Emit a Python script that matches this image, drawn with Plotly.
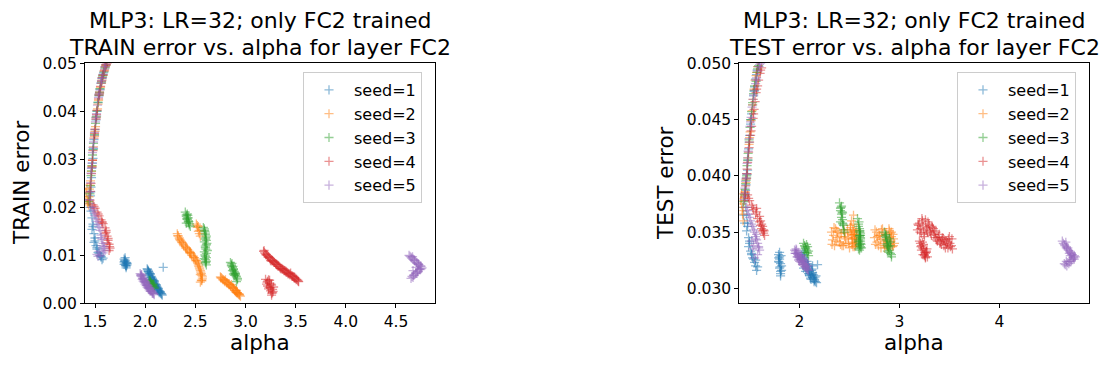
import plotly.graph_objects as go

# seed names and matplotlib tab10 colours
SEED_NAMES = ["seed=1", "seed=2", "seed=3", "seed=4", "seed=5"]
COLORS = ["#1f77b4", "#ff7f0e", "#2ca02c", "#d62728", "#9467bd"]

# seed 1: alpha, train error, test error (one entry per checkpoint)
SEED1_ALPHA = [1.62, 1.60, 1.585, 1.57, 1.56, 1.55, 1.54, 1.53, 1.52, 1.51, 1.50, 1.49, 1.485, 1.48, 1.47, 1.465, 1.46, 1.455, 1.45,
               1.46, 1.47, 1.48, 1.47, 1.49, 1.50, 1.49, 1.51, 1.52, 1.53, 1.55, 1.56, 1.57, 1.58, 1.56,
               1.79, 1.80, 1.81, 1.80, 1.82, 1.81, 1.79, 1.80, 1.82, 1.81,
               2.18,
               2.02, 2.03, 2.04, 2.05, 2.06, 2.07, 2.08, 2.09, 2.10, 2.11, 2.12, 2.13, 2.14, 2.15, 2.16, 2.17, 2.04, 2.06, 2.08, 2.10, 2.12, 2.14,
               1.575, 1.545, 1.515, 1.495, 1.475, 1.458, 1.48, 1.50, 1.52, 1.54, 1.80, 1.81, 1.79,
               2.03, 2.05, 2.07, 2.09, 2.11, 2.13, 2.15, 2.165, 2.05, 2.09, 2.13,
               2.025, 2.045, 2.065, 2.085, 2.105, 2.125, 2.145, 2.155, 2.035, 2.075, 2.115, 1.795, 1.805, 1.815, 1.44, 1.43, 1.45]
SEED1_TRAIN = [0.0505, 0.0492, 0.0480, 0.0468, 0.0458, 0.0446, 0.0432, 0.0418, 0.0400, 0.0382, 0.0362, 0.0341, 0.0322, 0.0302, 0.0282, 0.0262, 0.0242, 0.0224, 0.0208,
               0.0192, 0.0178, 0.0165, 0.0154, 0.0145, 0.0136, 0.0127, 0.0120, 0.0113, 0.0106, 0.0100, 0.0096, 0.0091, 0.0094, 0.0098,
               0.0092, 0.0088, 0.0085, 0.0082, 0.0080, 0.0077, 0.0086, 0.0090, 0.0083, 0.0079,
               0.0075,
               0.0072, 0.0068, 0.0064, 0.0060, 0.0056, 0.0052, 0.0048, 0.0045, 0.0041, 0.0037, 0.0033, 0.0029, 0.0026, 0.0023, 0.0020, 0.0017, 0.0058, 0.0050, 0.0042, 0.0035, 0.0028, 0.0022,
               0.0474, 0.0438, 0.0390, 0.0350, 0.0292, 0.0232, 0.0160, 0.0130, 0.0116, 0.0104, 0.0095, 0.0074, 0.0081,
               0.0066, 0.0062, 0.0050, 0.0043, 0.0039, 0.0031, 0.0024, 0.0019, 0.0054, 0.0047, 0.0027,
               0.0070, 0.0062, 0.0054, 0.0046, 0.0039, 0.0031, 0.0025, 0.0021, 0.0066, 0.0050, 0.0035, 0.0088, 0.0079, 0.0084, 0.0230, 0.0215, 0.0200]
SEED1_TEST = [0.0512, 0.0503, 0.0497, 0.0490, 0.0486, 0.0479, 0.0471, 0.0463, 0.0455, 0.0446, 0.0436, 0.0424, 0.0414, 0.0405, 0.0398, 0.0392, 0.0387, 0.0382, 0.0378,
              0.0372, 0.0365, 0.0358, 0.0351, 0.0345, 0.0340, 0.0337, 0.0333, 0.0330, 0.0327, 0.0323, 0.0320, 0.0316, 0.0319, 0.0325,
              0.0330, 0.0326, 0.0322, 0.0318, 0.0316, 0.0313, 0.0324, 0.0328, 0.0320, 0.0315,
              0.0321,
              0.0330, 0.0328, 0.0325, 0.0323, 0.0321, 0.0320, 0.0318, 0.0316, 0.0315, 0.0313, 0.0312, 0.0310, 0.0309, 0.0307, 0.0306, 0.0305, 0.0318, 0.0315, 0.0322, 0.0311, 0.0316, 0.0312,
              0.0494, 0.0475, 0.0450, 0.0430, 0.0401, 0.0384, 0.0355, 0.0342, 0.0331, 0.0326, 0.0332, 0.0311, 0.0327,
              0.0326, 0.0324, 0.0317, 0.0319, 0.0309, 0.0314, 0.0308, 0.0311, 0.0327, 0.0313, 0.0320,
              0.0326, 0.0330, 0.0319, 0.0321, 0.0312, 0.0317, 0.0306, 0.0310, 0.0332, 0.0324, 0.0308, 0.0323, 0.0319, 0.0329, 0.0365, 0.0372, 0.0358]

# seed 2
SEED2_ALPHA = [1.63, 1.61, 1.595, 1.58, 1.57, 1.555, 1.545, 1.535, 1.525, 1.515, 1.505, 1.495, 1.485, 1.475, 1.465, 1.455, 1.445, 1.44, 1.43, 1.435, 1.42,
               2.32, 2.34, 2.36, 2.38, 2.40, 2.42, 2.44, 2.46, 2.48, 2.50, 2.52, 2.53, 2.54, 2.55, 2.56, 2.57, 2.56, 2.55, 2.57, 2.35, 2.45,
               2.51, 2.52, 2.53, 2.54, 2.55, 2.53,
               2.75, 2.77, 2.79, 2.81, 2.83, 2.85, 2.87, 2.88, 2.89, 2.90, 2.91, 2.92, 2.93, 2.94, 2.95, 2.80, 2.86, 2.91,
               1.60, 1.565, 1.53, 1.50, 1.47, 1.45, 1.425,
               2.33, 2.37, 2.41, 2.45, 2.49, 2.51, 2.535, 2.545, 2.555, 2.565,
               2.76, 2.78, 2.82, 2.84, 2.88, 2.90, 2.92, 2.94, 2.52, 2.54,
               2.325, 2.345, 2.365, 2.385, 2.405, 2.425, 2.445, 2.465, 2.485, 2.505, 2.525, 2.55, 2.565,
               2.755, 2.775, 2.795, 2.815, 2.835, 2.855, 2.875, 2.895, 2.915, 2.935, 1.41, 1.42]
SEED2_TRAIN = [0.0510, 0.0497, 0.0486, 0.0475, 0.0465, 0.0450, 0.0437, 0.0423, 0.0405, 0.0388, 0.0368, 0.0348, 0.0326, 0.0298, 0.0275, 0.0255, 0.0238, 0.0222, 0.0212, 0.0205, 0.0218,
               0.0145, 0.0136, 0.0129, 0.0123, 0.0118, 0.0113, 0.0108, 0.0103, 0.0098, 0.0092, 0.0086, 0.0080, 0.0074, 0.0068, 0.0062, 0.0055, 0.0048, 0.0044, 0.0051, 0.0131, 0.0106,
               0.0165, 0.0158, 0.0150, 0.0145, 0.0140, 0.0160,
               0.0055, 0.0051, 0.0047, 0.0044, 0.0041, 0.0037, 0.0034, 0.0031, 0.0028, 0.0026, 0.0023, 0.0021, 0.0019, 0.0017, 0.0015, 0.0049, 0.0039, 0.0027,
               0.0492, 0.0458, 0.0415, 0.0358, 0.0286, 0.0246, 0.0208,
               0.0140, 0.0126, 0.0116, 0.0105, 0.0095, 0.0089, 0.0077, 0.0071, 0.0065, 0.0058,
               0.0053, 0.0049, 0.0042, 0.0039, 0.0032, 0.0024, 0.0022, 0.0018, 0.0162, 0.0152,
               0.0141, 0.0133, 0.0127, 0.0120, 0.0115, 0.0111, 0.0105, 0.0100, 0.0095, 0.0089, 0.0083, 0.0060, 0.0047,
               0.0053, 0.0049, 0.0045, 0.0043, 0.0039, 0.0035, 0.0032, 0.0027, 0.0022, 0.0020, 0.0230, 0.0240]
SEED2_TEST = [0.0520, 0.0507, 0.0502, 0.0497, 0.0492, 0.0485, 0.0477, 0.0468, 0.0458, 0.0449, 0.0439, 0.0428, 0.0416, 0.0402, 0.0394, 0.0386, 0.0380, 0.0372, 0.0366, 0.0360, 0.0375,
              0.0350, 0.0347, 0.0353, 0.0345, 0.0341, 0.0349, 0.0338, 0.0344, 0.0352, 0.0336, 0.0347, 0.0341, 0.0350, 0.0344, 0.0338, 0.0346, 0.0340, 0.0337, 0.0352, 0.0338, 0.0346,
              0.0356, 0.0360, 0.0352, 0.0365, 0.0348, 0.0344,
              0.0345, 0.0350, 0.0338, 0.0343, 0.0353, 0.0336, 0.0348, 0.0341, 0.0335, 0.0351, 0.0339, 0.0346, 0.0337, 0.0344, 0.0340, 0.0347, 0.0342, 0.0349,
              0.0505, 0.0489, 0.0463, 0.0434, 0.0398, 0.0383, 0.0369,
              0.0343, 0.0351, 0.0339, 0.0349, 0.0340, 0.0354, 0.0337, 0.0345, 0.0351, 0.0341,
              0.0339, 0.0346, 0.0352, 0.0340, 0.0337, 0.0345, 0.0350, 0.0338, 0.0348, 0.0357,
              0.0339, 0.0354, 0.0342, 0.0350, 0.0346, 0.0338, 0.0352, 0.0340, 0.0345, 0.0350, 0.0339, 0.0348, 0.0343,
              0.0352, 0.0341, 0.0347, 0.0336, 0.0349, 0.0344, 0.0338, 0.0353, 0.0342, 0.0348, 0.0378, 0.0384]

# seed 3
SEED3_ALPHA = [1.62, 1.60, 1.59, 1.575, 1.565, 1.55, 1.54, 1.53, 1.52, 1.505, 1.495, 1.485, 1.475, 1.47, 1.46, 1.455, 1.45, 1.44,
               2.04, 2.05, 2.06, 2.07, 2.08, 2.09, 2.06, 2.08,
               2.40, 2.41, 2.42, 2.43, 2.44, 2.45, 2.42, 2.43, 2.41, 2.44,
               2.58, 2.59, 2.60, 2.61, 2.60, 2.59, 2.61, 2.60, 2.62, 2.61, 2.60, 2.59, 2.61, 2.60, 2.61, 2.60,
               2.85, 2.86, 2.87, 2.88, 2.89, 2.90, 2.91, 2.92, 2.87, 2.89, 2.91,
               1.61, 1.58, 1.545, 1.51, 1.48, 1.465, 2.05, 2.07, 2.09, 2.42, 2.43, 2.41,
               2.59, 2.60, 2.61, 2.60, 2.59, 2.61, 2.86, 2.88, 2.90, 2.92, 2.88,
               2.595, 2.605, 2.615, 2.605, 2.595, 2.605, 2.425, 2.435, 2.415, 2.865, 2.875, 2.885, 2.895, 2.905, 2.055, 2.075]
SEED3_TRAIN = [0.0502, 0.0490, 0.0482, 0.0471, 0.0461, 0.0447, 0.0434, 0.0419, 0.0401, 0.0375, 0.0352, 0.0333, 0.0309, 0.0287, 0.0266, 0.0245, 0.0228, 0.0212,
               0.0048, 0.0045, 0.0042, 0.0039, 0.0035, 0.0031, 0.0037, 0.0040,
               0.0190, 0.0184, 0.0178, 0.0172, 0.0166, 0.0160, 0.0175, 0.0169, 0.0181, 0.0163,
               0.0158, 0.0152, 0.0146, 0.0140, 0.0134, 0.0128, 0.0122, 0.0116, 0.0110, 0.0104, 0.0098, 0.0093, 0.0088, 0.0084, 0.0080, 0.0091,
               0.0085, 0.0080, 0.0075, 0.0070, 0.0065, 0.0060, 0.0055, 0.0049, 0.0068, 0.0058, 0.0045,
               0.0496, 0.0476, 0.0440, 0.0388, 0.0320, 0.0276, 0.0047, 0.0036, 0.0033, 0.0186, 0.0178, 0.0167,
               0.0155, 0.0143, 0.0131, 0.0119, 0.0107, 0.0095, 0.0078, 0.0072, 0.0063, 0.0052, 0.0061,
               0.0150, 0.0137, 0.0125, 0.0113, 0.0101, 0.0086, 0.0183, 0.0170, 0.0176, 0.0083, 0.0077, 0.0067, 0.0062, 0.0057, 0.0043, 0.0038]
SEED3_TEST = [0.0515, 0.0504, 0.0498, 0.0492, 0.0484, 0.0480, 0.0473, 0.0465, 0.0457, 0.0443, 0.0432, 0.0420, 0.0409, 0.0400, 0.0393, 0.0388, 0.0383, 0.0377,
              0.0340, 0.0338, 0.0336, 0.0334, 0.0331, 0.0329, 0.0335, 0.0337,
              0.0376, 0.0371, 0.0366, 0.0361, 0.0356, 0.0350, 0.0363, 0.0358, 0.0369, 0.0352,
              0.0362, 0.0357, 0.0353, 0.0349, 0.0346, 0.0343, 0.0340, 0.0338, 0.0336, 0.0344, 0.0350, 0.0341, 0.0337, 0.0334, 0.0345, 0.0339,
              0.0350, 0.0346, 0.0343, 0.0340, 0.0337, 0.0334, 0.0331, 0.0328, 0.0345, 0.0336, 0.0341,
              0.0509, 0.0495, 0.0476, 0.0450, 0.0414, 0.0396, 0.0332, 0.0339, 0.0333, 0.0373, 0.0367, 0.0359,
              0.0355, 0.0347, 0.0342, 0.0351, 0.0335, 0.0347, 0.0348, 0.0333, 0.0344, 0.0330, 0.0338,
              0.0359, 0.0351, 0.0339, 0.0347, 0.0342, 0.0336, 0.0368, 0.0357, 0.0372, 0.0347, 0.0339, 0.0342, 0.0332, 0.0338, 0.0337, 0.0332]

# seed 4
SEED4_ALPHA = [1.62, 1.605, 1.59, 1.58, 1.565, 1.555, 1.545, 1.535, 1.52, 1.51, 1.50, 1.49, 1.48, 1.475, 1.465, 1.46, 1.455, 1.45,
               1.48, 1.50, 1.52, 1.54, 1.56, 1.58, 1.60, 1.61, 1.62, 1.63, 1.64, 1.65, 1.64, 1.62, 1.60, 1.57,
               3.18, 3.20, 3.22, 3.24, 3.26, 3.28, 3.30, 3.32, 3.34, 3.36, 3.38, 3.40, 3.42, 3.44, 3.46, 3.48, 3.50, 3.52, 3.53, 3.25, 3.35, 3.45,
               3.20, 3.22, 3.24, 3.26, 3.28, 3.23, 3.25, 3.27, 3.21, 3.26,
               1.61, 1.57, 1.54, 1.515, 1.495, 1.47, 1.49, 1.53, 1.57, 1.61, 1.63, 1.645,
               3.19, 3.21, 3.23, 3.27, 3.29, 3.31, 3.33, 3.37, 3.39, 3.41, 3.43, 3.47, 3.49, 3.51,
               3.22, 3.24, 3.27, 3.25,
               3.185, 3.205, 3.225, 3.245, 3.265, 3.285, 3.305, 3.325, 3.345, 3.365, 3.385, 3.405, 3.425, 3.445, 3.465, 3.485, 3.505, 3.525,
               3.215, 3.235, 3.255, 3.275, 3.23, 3.26]
SEED4_TRAIN = [0.0500, 0.0494, 0.0484, 0.0476, 0.0463, 0.0452, 0.0440, 0.0426, 0.0402, 0.0384, 0.0363, 0.0344, 0.0318, 0.0298, 0.0270, 0.0250, 0.0233, 0.0215,
               0.0205, 0.0198, 0.0190, 0.0182, 0.0174, 0.0166, 0.0157, 0.0148, 0.0140, 0.0131, 0.0123, 0.0115, 0.0110, 0.0126, 0.0145, 0.0170,
               0.0108, 0.0103, 0.0099, 0.0095, 0.0091, 0.0087, 0.0083, 0.0080, 0.0076, 0.0073, 0.0070, 0.0067, 0.0064, 0.0061, 0.0058, 0.0055, 0.0052, 0.0048, 0.0045, 0.0089, 0.0072, 0.0063,
               0.0050, 0.0046, 0.0042, 0.0038, 0.0034, 0.0030, 0.0026, 0.0022, 0.0040, 0.0017,
               0.0497, 0.0470, 0.0434, 0.0393, 0.0354, 0.0284, 0.0202, 0.0186, 0.0168, 0.0152, 0.0135, 0.0118,
               0.0105, 0.0101, 0.0097, 0.0089, 0.0085, 0.0081, 0.0078, 0.0071, 0.0068, 0.0065, 0.0062, 0.0056, 0.0053, 0.0050,
               0.0036, 0.0048, 0.0029, 0.0032,
               0.0110, 0.0101, 0.0096, 0.0093, 0.0088, 0.0085, 0.0081, 0.0077, 0.0074, 0.0071, 0.0068, 0.0065, 0.0061, 0.0059, 0.0056, 0.0053, 0.0049, 0.0046,
               0.0044, 0.0033, 0.0040, 0.0025, 0.0049, 0.0021]
SEED4_TEST = [0.0496, 0.0491, 0.0485, 0.0480, 0.0474, 0.0466, 0.0459, 0.0451, 0.0444, 0.0436, 0.0430, 0.0421, 0.0412, 0.0406, 0.0397, 0.0391, 0.0385, 0.0381,
              0.0383, 0.0378, 0.0374, 0.0370, 0.0366, 0.0362, 0.0359, 0.0356, 0.0353, 0.0351, 0.0349, 0.0347, 0.0352, 0.0357, 0.0364, 0.0371,
              0.0352, 0.0358, 0.0349, 0.0355, 0.0361, 0.0350, 0.0356, 0.0347, 0.0353, 0.0345, 0.0342, 0.0348, 0.0339, 0.0344, 0.0336, 0.0341, 0.0346, 0.0338, 0.0335, 0.0346, 0.0351, 0.0343,
              0.0342, 0.0338, 0.0335, 0.0331, 0.0328, 0.0336, 0.0330, 0.0333, 0.0340, 0.0327,
              0.0494, 0.0477, 0.0455, 0.0440, 0.0425, 0.0402, 0.0380, 0.0372, 0.0368, 0.0360, 0.0355, 0.0351,
              0.0356, 0.0353, 0.0360, 0.0352, 0.0357, 0.0349, 0.0354, 0.0343, 0.0346, 0.0341, 0.0345, 0.0339, 0.0344, 0.0337,
              0.0334, 0.0339, 0.0332, 0.0329,
              0.0357, 0.0350, 0.0362, 0.0348, 0.0354, 0.0359, 0.0351, 0.0355, 0.0348, 0.0350, 0.0345, 0.0340, 0.0343, 0.0338, 0.0342, 0.0336, 0.0340, 0.0344,
              0.0337, 0.0330, 0.0332, 0.0335, 0.0341, 0.0328]

# seed 5
SEED5_ALPHA = [1.61, 1.595, 1.58, 1.57, 1.56, 1.55, 1.535, 1.525, 1.515, 1.505, 1.495, 1.485, 1.475, 1.47, 1.46, 1.455, 1.45, 1.445,
               1.47, 1.49, 1.51, 1.53, 1.55, 1.56, 1.57, 1.58, 1.59, 1.60, 1.58, 1.55, 1.53, 1.52, 1.54, 1.57,
               1.95, 1.96, 1.97, 1.98, 1.99, 2.00, 2.01, 2.02, 2.03, 2.04, 2.05, 2.06, 2.07, 2.08, 2.09, 1.98, 2.00, 2.02, 2.04,
               4.63, 4.65, 4.67, 4.69, 4.71, 4.73, 4.75, 4.76, 4.74, 4.72, 4.70, 4.68, 4.66, 4.65, 4.67, 4.70,
               1.60, 1.565, 1.54, 1.51, 1.48, 1.465, 1.48, 1.50, 1.52, 1.54, 1.56, 1.59,
               1.96, 1.97, 1.99, 2.01, 2.03, 2.05, 2.07, 4.64, 4.68, 4.72, 4.75, 4.71, 4.67,
               1.955, 1.965, 1.975, 1.985, 1.995, 2.005, 2.015, 2.025, 2.035, 2.045, 2.055, 2.065, 2.075, 2.085,
               4.655, 4.665, 4.685, 4.705, 4.725, 4.745, 4.735, 4.715, 4.695, 4.675]
SEED5_TRAIN = [0.0498, 0.0488, 0.0477, 0.0469, 0.0459, 0.0444, 0.0429, 0.0413, 0.0395, 0.0378, 0.0356, 0.0336, 0.0314, 0.0292, 0.0271, 0.0251, 0.0232, 0.0216,
               0.0200, 0.0188, 0.0176, 0.0164, 0.0152, 0.0142, 0.0133, 0.0125, 0.0118, 0.0110, 0.0105, 0.0100, 0.0098, 0.0102, 0.0108, 0.0120,
               0.0062, 0.0058, 0.0055, 0.0052, 0.0048, 0.0045, 0.0042, 0.0039, 0.0036, 0.0033, 0.0030, 0.0027, 0.0024, 0.0021, 0.0018, 0.0046, 0.0040, 0.0033, 0.0028,
               0.0100, 0.0096, 0.0092, 0.0088, 0.0084, 0.0080, 0.0077, 0.0074, 0.0070, 0.0066, 0.0062, 0.0059, 0.0056, 0.0052, 0.0068, 0.0075,
               0.0493, 0.0464, 0.0436, 0.0387, 0.0325, 0.0281, 0.0194, 0.0182, 0.0170, 0.0158, 0.0137, 0.0114,
               0.0056, 0.0050, 0.0044, 0.0037, 0.0031, 0.0025, 0.0021, 0.0098, 0.0090, 0.0082, 0.0072, 0.0064, 0.0054,
               0.0059, 0.0060, 0.0052, 0.0050, 0.0045, 0.0043, 0.0038, 0.0037, 0.0032, 0.0031, 0.0026, 0.0025, 0.0021, 0.0020,
               0.0094, 0.0097, 0.0090, 0.0085, 0.0081, 0.0078, 0.0071, 0.0067, 0.0063, 0.0058]
SEED5_TEST = [0.0500, 0.0497, 0.0493, 0.0487, 0.0482, 0.0476, 0.0468, 0.0461, 0.0452, 0.0444, 0.0433, 0.0422, 0.0411, 0.0402, 0.0395, 0.0389, 0.0384, 0.0379,
              0.0372, 0.0366, 0.0360, 0.0355, 0.0350, 0.0346, 0.0343, 0.0340, 0.0337, 0.0334, 0.0330, 0.0327, 0.0335, 0.0342, 0.0338, 0.0348,
              0.0334, 0.0333, 0.0331, 0.0330, 0.0329, 0.0327, 0.0326, 0.0325, 0.0323, 0.0322, 0.0321, 0.0319, 0.0318, 0.0317, 0.0316, 0.0328, 0.0324, 0.0329, 0.0326,
              0.0342, 0.0339, 0.0337, 0.0334, 0.0332, 0.0330, 0.0329, 0.0328, 0.0327, 0.0325, 0.0324, 0.0323, 0.0321, 0.0322, 0.0336, 0.0331,
              0.0499, 0.0485, 0.0472, 0.0448, 0.0416, 0.0398, 0.0369, 0.0363, 0.0357, 0.0352, 0.0344, 0.0336,
              0.0331, 0.0334, 0.0325, 0.0328, 0.0321, 0.0324, 0.0320, 0.0340, 0.0335, 0.0331, 0.0326, 0.0329, 0.0324,
              0.0331, 0.0335, 0.0328, 0.0332, 0.0326, 0.0330, 0.0323, 0.0327, 0.0321, 0.0325, 0.0319, 0.0322, 0.0317, 0.0320,
              0.0338, 0.0341, 0.0336, 0.0333, 0.0330, 0.0328, 0.0326, 0.0324, 0.0322, 0.0320]

SEEDS = [
    (SEED1_ALPHA, SEED1_TRAIN, SEED1_TEST),
    (SEED2_ALPHA, SEED2_TRAIN, SEED2_TEST),
    (SEED3_ALPHA, SEED3_TRAIN, SEED3_TEST),
    (SEED4_ALPHA, SEED4_TRAIN, SEED4_TEST),
    (SEED5_ALPHA, SEED5_TRAIN, SEED5_TEST),
]

W, H = 1111, 366
FONT = "DejaVu Sans"


def px_x(p):
    return p / W


def px_y(p):
    return 1 - p / H


fig = go.Figure()

for name, color, (alpha, train, test) in zip(SEED_NAMES, COLORS, SEEDS):
    # per-point opacity so overlapping "+" build up like matplotlib alpha=0.5;
    # cross-thin arms are 1.4 * size/2, so size 6.5 gives a ~9 px "+"
    marker = dict(symbol="cross-thin", size=6.5, color=color, opacity=0.5,
                  line=dict(color=color, width=1.3))
    fig.add_trace(go.Scatter(
        x=alpha, y=train, mode="markers", name=name, legendgroup=name,
        marker=marker, xaxis="x", yaxis="y", legend="legend",
    ))
    fig.add_trace(go.Scatter(
        x=alpha, y=test, mode="markers", name=name, legendgroup=name + "_t",
        marker=marker, xaxis="x2", yaxis="y2", legend="legend2",
    ))

axis_style = dict(
    showline=True, mirror=True, linecolor="black", linewidth=1,
    ticks="outside", ticklen=4, tickwidth=1, tickcolor="black",
    showgrid=False, zeroline=False, automargin=False,
    tickfont=dict(family=FONT, size=15.5, color="black"),
)

legend_style = dict(
    xanchor="left", yanchor="top",
    bgcolor="white", bordercolor="#cccccc", borderwidth=1,
    font=dict(family=FONT, size=16, color="black"),
    itemwidth=40, tracegroupgap=0,
)

fig.update_layout(
    width=W, height=H, autosize=False,
    margin=dict(l=0, r=0, t=0, b=0, pad=0, autoexpand=False),
    plot_bgcolor="white", paper_bgcolor="white",
    font=dict(family=FONT, color="black"),
    showlegend=True,
    xaxis=dict(domain=[px_x(85), px_x(435)], range=[1.4003, 4.889], tick0=1.5, dtick=0.5,
               tickformat=".1f", anchor="y", **axis_style),
    yaxis=dict(domain=[px_y(303.3), px_y(63.3)], range=[0, 0.05], tick0=0, dtick=0.01,
               tickformat=".2f", anchor="x", **axis_style),
    xaxis2=dict(domain=[px_x(739.3), px_x(1089.3)], range=[1.397, 4.90], tick0=2, dtick=1,
                tickformat="d", anchor="y2", **axis_style),
    yaxis2=dict(domain=[px_y(303.3), px_y(63.3)], range=[0.02867, 0.050], tick0=0.03, dtick=0.005,
                tickformat=".3f", anchor="x2", **axis_style),
    legend=dict(x=px_x(303), y=px_y(72), **legend_style),
    legend2=dict(x=px_x(957), y=px_y(72), **legend_style),
)

# titles and axis labels
TITLE_SIZE = 22
LABEL_SIZE = 21.5
texts = [
    ("MLP3: LR=32; only FC2 trained", 260, 21, TITLE_SIZE, 0),
    ("TRAIN error vs. alpha for layer FC2", 260, 47, TITLE_SIZE, 0),
    ("MLP3: LR=32; only FC2 trained", 914, 21, TITLE_SIZE, 0),
    ("TEST error vs. alpha for layer FC2", 914, 47, TITLE_SIZE, 0),
    ("alpha", 260, 342, LABEL_SIZE, 0),
    ("alpha", 914, 342, LABEL_SIZE, 0),
    ("TRAIN error", 21, 183, LABEL_SIZE, -90),
    ("TEST error", 665, 183, LABEL_SIZE, -90),
]
for txt, x, y, size, angle in texts:
    fig.add_annotation(
        text=txt, x=px_x(x), y=px_y(y), xref="paper", yref="paper",
        xanchor="center", yanchor="middle", showarrow=False, textangle=angle,
        font=dict(family=FONT, size=size, color="black"),
    )

# drop the browser's default 8px body margin so the figure sits at the page origin
fig.write_html(
    "out.html",
    config={"displayModeBar": False},
    post_script="document.body.style.margin = '0px';",
)
